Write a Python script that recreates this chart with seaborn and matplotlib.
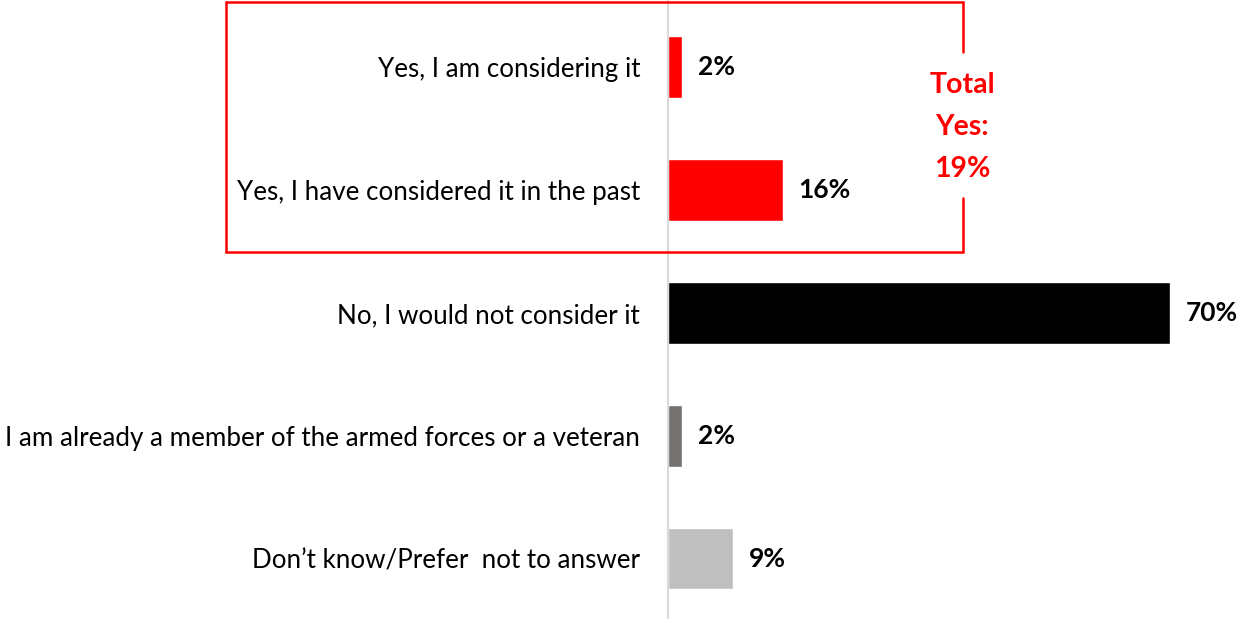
import matplotlib
matplotlib.use("Agg")
import matplotlib.pyplot as plt
import seaborn as sns
import pandas as pd
from matplotlib.lines import Line2D

categories = [
    "Yes, I am considering it",
    "Yes, I have considered it in the past",
    "No, I would not consider it",
    "I am already a member of the armed forces or a veteran",
    "Don\u2019t know/Prefer  not to answer",
]
values = [2, 16, 70, 2, 9]
value_labels = ["2%", "16%", "70%", "2%", "9%"]
colors = ["#FF0000", "#FF0000", "#000000", "#767171", "#BFBFBF"]
total_label = "Total\nYes:\n19%"

sns.set_theme(style="white")
plt.rcParams["font.family"] = ["Lato", "DejaVu Sans"]

W, H = 1243, 619
fig = plt.figure(figsize=(W / 100, H / 100), dpi=100)
ax = fig.add_axes([668 / W, 0, (W - 668) / W, 1])

df = pd.DataFrame({"cat": categories, "val": values})
sns.barplot(data=df, y="cat", x="val", hue="cat", palette=colors, legend=False,
            orient="h", width=0.5, ax=ax, saturation=1)

ax.set_xlim(0, (W - 668) / (502 / 70))
ax.set_ylim(4.49, -0.545)
for s in ["top", "right", "bottom"]:
    ax.spines[s].set_visible(False)
ax.spines["left"].set_color("#D9D9D9")
ax.spines["left"].set_linewidth(1.5)
ax.set_xticks([])
ax.set_xlabel("")
ax.set_ylabel("")
ax.tick_params(axis="y", length=0, pad=20, labelsize=18.7, labelcolor="#000000")

for i, (v, lab) in enumerate(zip(values, value_labels)):
    ax.annotate(lab, (v, i), xytext=(16, 0), textcoords="offset pixels",
                va="center", ha="left", fontsize=19, fontweight="bold", color="black")

# red highlight box (figure pixel coords, y from top)
def fx(x):
    return x / W

def fy(y):
    return 1 - y / H

red = "#FF0000"
lw = 1.8
segs = [
    [(226, 2), (963, 2)],
    [(226, 2), (226, 252)],
    [(226, 252), (963, 252)],
    [(963, 2), (963, 52)],
    [(963, 198), (963, 252)],
]
for (x0, y0), (x1, y1) in segs:
    fig.add_artist(Line2D([fx(x0), fx(x1)], [fy(y0), fy(y1)], color=red, lw=lw))

fig.text(fx(962), fy(127), total_label, ha="center", va="center", color=red,
         fontsize=20.5, fontweight="bold", linespacing=1.75)

fig.savefig("out.png", dpi=100)
